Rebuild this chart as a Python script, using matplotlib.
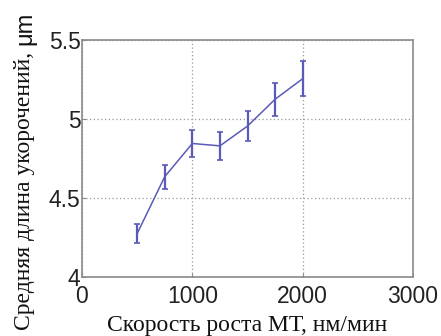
import numpy as np
import matplotlib
matplotlib.use('Agg')
import matplotlib.pyplot as plt

# data
speed = [500, 750, 1000, 1250, 1500, 1750, 2000]
length = [4.275, 4.635, 4.845, 4.83, 4.955, 5.125, 5.255]
err = [0.06, 0.075, 0.085, 0.09, 0.095, 0.105, 0.11]

xticks = [0, 1000, 2000, 3000]
yticks = [4, 4.5, 5, 5.5]
ytick_labels = ['4', '4.5', '5', '5.5']

fig = plt.figure(figsize=(4.41, 3.36), dpi=100)
ax = fig.add_axes([82/441, 1 - 277/336, (413 - 82)/441, (277 - 40)/336])

line_col = '#5a5ab8'
ax.errorbar(speed, length, yerr=err, color=line_col, linewidth=1.1,
            elinewidth=1.6, capsize=2.2, capthick=1.2)

ax.set_xlim(0, 3000); ax.set_ylim(4, 5.5)
ax.set_xticks(xticks); ax.set_yticks(yticks)
ax.set_yticklabels(ytick_labels)
ax.grid(True, color='#999999', linestyle=(0, (1, 2)), linewidth=0.9)
for sp in ax.spines.values():
    sp.set_color('#8a8a8a'); sp.set_linewidth(1.2)
ax.tick_params(direction='in', length=3, color='#8a8a8a',
               labelsize=16.5, labelcolor='#222222')
ax.tick_params(axis='y', pad=1)
ax.tick_params(axis='x', pad=6)
for lab in ax.get_xticklabels() + ax.get_yticklabels():
    lab.set_family('Liberation Sans')

ax.set_xlabel('Скорость роста МТ, нм/мин', family='Liberation Serif',
              fontsize=17, labelpad=5, color='#111111')

# y label: serif part + sans "μm" on top
t1 = fig.text(25/441, 1 - 191/336, 'Средняя длина укорочений,', rotation=90,
              family='Liberation Serif', fontsize=17, color='#111111',
              ha='center', va='center')
fig.canvas.draw()
bb = t1.get_window_extent()
fig.text(25/441, (bb.y1 + 7)/336, 'μm', rotation=90, family='Liberation Sans',
         fontsize=17, color='#111111', ha='center', va='bottom')

fig.savefig('out.png', dpi=100)
